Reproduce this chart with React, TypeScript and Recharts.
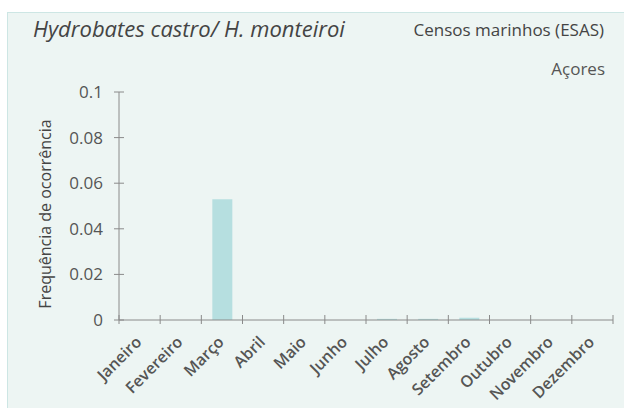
import { Bar, BarChart, XAxis, YAxis } from "recharts";

const months = [
  "Janeiro",
  "Fevereiro",
  "Março",
  "Abril",
  "Maio",
  "Junho",
  "Julho",
  "Agosto",
  "Setembro",
  "Outubro",
  "Novembro",
  "Dezembro",
];
const freq = [0, 0, 0.053, 0, 0, 0, 0.0005, 0.0005, 0.001, 0, 0, 0];
const yTicks = [0, 0.02, 0.04, 0.06, 0.08, 0.1];

const data = months.map((m) => ({ month: m, value: freq[months.indexOf(m)] }));

const FONT = "'Open Sans', 'Noto Sans', sans-serif";
const TEXT = "#555";
const AXIS = "#8a8a8a";

const W = 624;
const H = 408;
const MARGIN = { top: 92, right: 11, bottom: 0, left: 0 };
const Y_AXIS_W = 119;
const BAND = (W - MARGIN.left - MARGIN.right - Y_AXIS_W) / months.length;

function MonthTick({ x, y, payload, index }: any) {
  const ax = x + 3;
  const ay = y + 23;
  const left = x - BAND / 2;
  return (
    <g>
      <line x1={left} x2={left} y1={y - 5} y2={y + 4} stroke={AXIS} strokeWidth={1} />
      {index === months.length - 1 && (
        <line
          x1={x + BAND / 2}
          x2={x + BAND / 2}
          y1={y - 5}
          y2={y + 4}
          stroke={AXIS}
          strokeWidth={1}
        />
      )}
      <text
        x={ax}
        y={ay}
        textAnchor="end"
        transform={`rotate(-45 ${ax} ${ay})`}
        fontSize={16}
        fontWeight={600}
        fill={TEXT}
        fontFamily={FONT}
      >
        {payload.value}
      </text>
    </g>
  );
}

function YTick({ x, y, payload }: any) {
  return (
    <g>
      <line x1={x - 5} x2={x + 5} y1={y} y2={y} stroke={AXIS} strokeWidth={1} />
      <text
        x={x - 16}
        y={y}
        dy={6}
        textAnchor="end"
        fontSize={17}
        fill={TEXT}
        fontFamily={FONT}
      >
        {payload.value}
      </text>
    </g>
  );
}

export default function App() {
  return (
    <div
      style={{
        position: "absolute",
        left: 0,
        top: 0,
        width: W,
        height: H,
        background: "#ffffff",
        fontFamily: FONT,
        overflow: "hidden",
      }}
    >
      <div
        style={{
          position: "absolute",
          left: 7,
          top: 12,
          width: 617,
          height: 396,
          background: "#edf5f3",
          borderLeft: "1px solid #cde6e4",
          borderTop: "1px solid #cde6e4",
        }}
      />
      <div
        style={{
          position: "absolute",
          left: 33,
          top: 13,
          fontSize: 22,
          fontStyle: "italic",
          color: "#444",
          whiteSpace: "nowrap",
        }}
      >
        Hydrobates castro/ H. monteiroi
      </div>
      <div
        style={{
          position: "absolute",
          right: 20,
          top: 18,
          fontSize: 17,
          color: "#444",
          whiteSpace: "nowrap",
        }}
      >
        Censos marinhos (ESAS)
      </div>
      <div
        style={{
          position: "absolute",
          right: 19,
          top: 57,
          fontSize: 17,
          color: "#555",
          whiteSpace: "nowrap",
        }}
      >
        Açores
      </div>
      <div
        style={{
          position: "absolute",
          left: 45,
          top: 214,
          transform: "translate(-50%, -50%) rotate(-90deg)",
          fontSize: 16,
          color: "#444",
          whiteSpace: "nowrap",
        }}
      >
        Frequência de ocorrência
      </div>
      <div style={{ position: "absolute", left: 0, top: 0 }}>
        <BarChart width={W} height={H} data={data} margin={MARGIN}>
          <XAxis
            dataKey="month"
            interval={0}
            tick={<MonthTick />}
            tickSize={0}
            tickMargin={0}
            tickLine={false}
            axisLine={{ stroke: AXIS, strokeWidth: 1 }}
            height={88}
          />
          <YAxis
            width={Y_AXIS_W}
            domain={[0, 0.1]}
            ticks={yTicks}
            interval={0}
            tick={<YTick />}
            tickSize={0}
            tickMargin={0}
            tickLine={false}
            axisLine={{ stroke: AXIS, strokeWidth: 1 }}
          />
          <Bar dataKey="value" fill="#b6dfe0" barSize={20} isAnimationActive={false} />
        </BarChart>
      </div>
    </div>
  );
}
